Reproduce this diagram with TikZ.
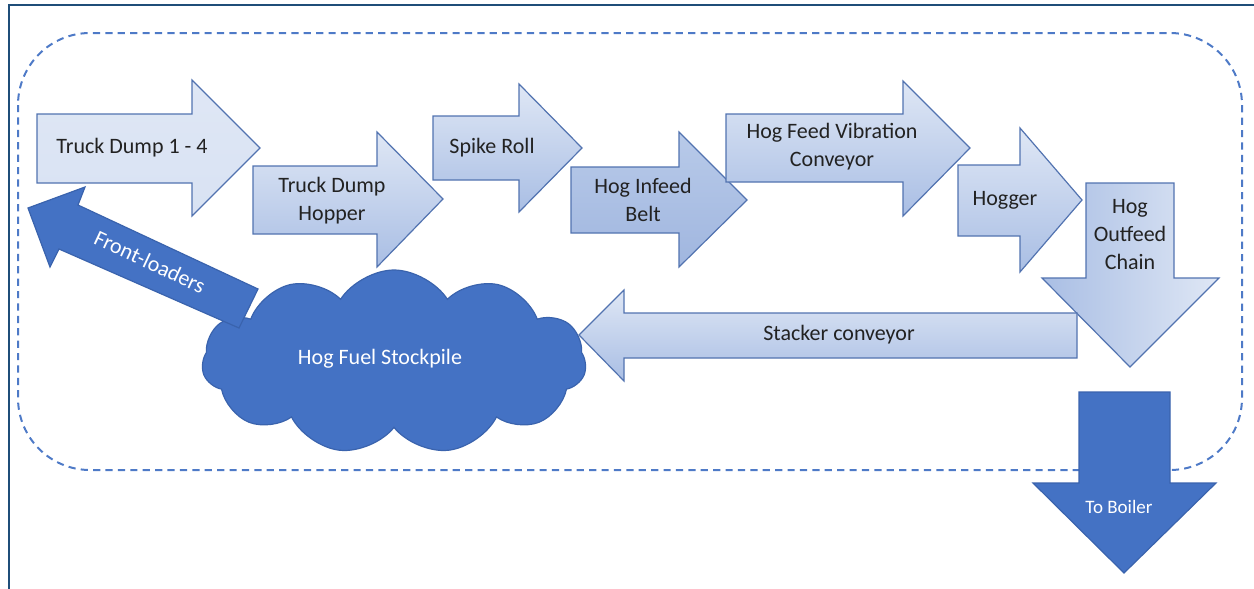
\documentclass[tikz,border=0pt]{standalone}
\usepackage{fontspec}
\setmainfont{Carlito}
\usetikzlibrary{shapes.symbols}
\definecolor{framecol}{HTML}{1F4E79}
\definecolor{dashcol}{HTML}{4E7AC7}
\definecolor{arrline}{HTML}{5273B0}
\definecolor{lt}{HTML}{DFE7F5}
\definecolor{lb}{HTML}{A9BEE4}
\definecolor{midt}{HTML}{B8CAE9}
\definecolor{midb}{HTML}{A0B6DF}
\definecolor{dk}{HTML}{4472C4}
\definecolor{dkline}{HTML}{3A63AD}
\definecolor{txt}{HTML}{222222}
\begin{document}
\begin{tikzpicture}[x=0.5pt,y=-0.5pt,
  arr/.style={draw=arrline, line width=0.6pt, top color=lt, bottom color=lb},
  darr/.style={draw=dkline, line width=0.6pt, fill=dk},
  lbl/.style={font=\fontsize{11}{14}\selectfont, text=txt, align=center, inner sep=0pt},
  wlbl/.style={font=\fontsize{11}{14}\selectfont, text=white, align=center, inner sep=0pt}]
\path[use as bounding box] (0,0) rectangle (1254,589);
% frame
\draw[framecol, line width=1.4pt] (9,589) -- (9,5) -- (1254,5);
% dashed boundary
\draw[dashcol, line width=1pt, dash pattern=on 3.6pt off 2.6pt, rounded corners=36pt] (18,33) rectangle (1242,470);
% Truck Dump 1-4
\path[arr, top color=lt, bottom color=lt!88!lb] (37,114) -- (192,114) -- (192,80) -- (260,148) -- (192,216) -- (192,183) -- (37,183) -- cycle;
\node[lbl] (td) at (132,148) {Truck Dump 1 - 4};
% Truck Dump Hopper
\path[arr] (253,166) -- (377,166) -- (377,132) -- (443,199) -- (377,267) -- (377,234) -- (253,234) -- cycle;
\node[lbl] (tdh) at (332,201) {Truck Dump\\Hopper};
% Spike Roll
\path[arr] (433,116) -- (519,116) -- (519,84) -- (582,148) -- (519,212) -- (519,180) -- (433,180) -- cycle;
\node[lbl] (sr) at (492,148) {Spike Roll};
% Hog Infeed Belt
\path[arr, top color=midt, bottom color=midb] (571,167) -- (679,167) -- (679,132) -- (747,200) -- (679,267) -- (679,233) -- (571,233) -- cycle;
\node[lbl] (hib) at (643,200) {Hog Infeed\\Belt};
% Hog Feed Vibration Conveyor
\path[arr] (726,114) -- (903,114) -- (903,81) -- (970,148) -- (903,216) -- (903,182) -- (726,182) -- cycle;
\node[lbl] (hfv) at (832,147) {Hog Feed Vibration\\Conveyor};
% Hogger
\path[arr] (958,165) -- (1020,165) -- (1020,128) -- (1082,200) -- (1020,272) -- (1020,236) -- (958,236) -- cycle;
\node[lbl] (hog) at (1005,200) {Hogger};
% Hog Outfeed Chain
\path[arr, left color=lb, right color=lt] (1086,183) -- (1174,183) -- (1174,278) -- (1219,278) -- (1130,367) -- (1042,278) -- (1086,278) -- cycle;
\node[lbl] (hoc) at (1130,235) {Hog\\Outfeed\\Chain};
% Hog Fuel Stockpile cloud
\node[cloud, cloud puffs=11, cloud puff arc=115, aspect=2.1, minimum width=192pt, minimum height=92pt, fill=dk, draw=dkline, line width=0.6pt, inner sep=0pt] (pile) at (394,362) {};
\node[wlbl] (pilelbl) at (380,359) {Hog Fuel Stockpile};
% Stacker conveyor
\path[arr] (1077,313) -- (624,313) -- (624,290) -- (579,335) -- (624,381) -- (624,358) -- (1077,358) -- cycle;
\node[lbl] (sc) at (839,335) {Stacker conveyor};
% Front-loaders
\path[darr] (28,208) -- (85,187) -- (78,205) -- (258,289) -- (239,328) -- (59,249) -- (50,267) -- cycle;
\node[wlbl, rotate=-25] (fl) at (150,262) {Front-loaders};
% To Boiler
\path[darr] (1079,392) -- (1170,392) -- (1170,483) -- (1216,483) -- (1124,573) -- (1033,483) -- (1079,483) -- cycle;
\node[wlbl, font=\fontsize{9.5}{11}\selectfont] (tb) at (1119,507) {To Boiler};
\end{tikzpicture}
\end{document}
